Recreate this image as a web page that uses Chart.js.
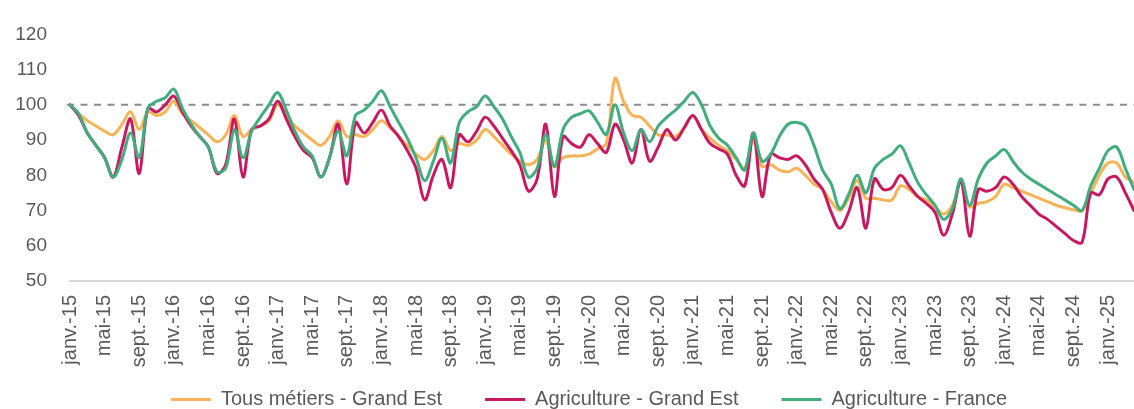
<!DOCTYPE html>
<html lang="fr">
<head>
<meta charset="utf-8">
<title>Demandeurs d'emploi - indice base 100</title>
<script src="https://cdn.jsdelivr.net/npm/chart.js@4.4.1/dist/chart.umd.min.js"></script>
<style>
  html, body { margin: 0; padding: 0; background: #fff; overflow: hidden; }
  #wrap { position: relative; width: 1134px; height: 409px; }
</style>
</head>
<body>
<div id="wrap"><canvas id="chart"></canvas></div>
<script>
// Categories: monthly, janv.-15 .. avr.-25
const monthNames = ['janv.', 'févr.', 'mars', 'avr.', 'mai', 'juin', 'juil.', 'août', 'sept.', 'oct.', 'nov.', 'déc.'];
const years = ['15', '16', '17', '18', '19', '20', '21', '22', '23', '24', '25'];
const monthsInLastYear = 4;
const tickEvery = 4;
const baseValue = 100;

const labels = [];
years.forEach((yy, k) => {
    const n = k === years.length - 1 ? monthsInLastYear : 12;
    for (let m = 0; m < n; m++) labels.push(monthNames[m] + '-' + yy);
});

// Series values (index base 100 = janv.-15)
const tousMetiersGE = [
    100, 97.5, 95.5, 94, 92.5, 91.5, 94.5, 98, 93, 98, 97, 98,
    101, 97.5, 95.5, 93.5, 91.5, 89.5, 91.5, 97, 91, 93, 94, 95.5,
    100, 97, 94, 92, 90, 88.5, 91, 95.5, 91, 91.5, 91, 93,
    95.5, 93.5, 91, 88.5, 86, 84.5, 87, 91, 87, 89, 88.5, 90,
    93, 91, 88.5, 86, 84, 83, 84.5, 90, 82.5, 85, 85.5, 85.5,
    86, 87.5, 89, 107.5, 101, 97, 96.5, 94, 91.5, 91.5, 91, 93.5,
    97, 93, 90.5, 88.5, 87, 84.5, 82, 90, 82.5, 83, 81.5, 81,
    82, 80, 77.5, 76, 72.5, 70, 73.5, 78.5, 73.5, 73.5, 73, 73,
    77, 76, 74, 73, 71, 69, 71.5, 78, 71, 72, 72.5, 74,
    77.5, 76.5, 75.5, 74.5, 73.5, 72.5, 71.5, 70.8, 70.2, 70, 75, 80,
    83.5, 83.5, 79.5, 78
];
const agricultureGE = [
    100, 97, 92, 88.5, 85, 79.5, 88, 96, 80.5, 99, 98, 100,
    102.5, 98, 94, 91, 88, 80.5, 83, 96, 79.5, 93, 94, 96,
    101, 96, 91, 87, 85, 79.5, 85, 94.5, 77.5, 95, 92, 95,
    98.5, 94, 91, 87, 82, 73, 80, 84.5, 76.5, 91.5, 89.5, 92.5,
    96.5, 94, 90.5, 87, 83, 75.5, 79, 94.5, 74, 91, 89, 88,
    91.5, 89, 86.5, 94.5, 90, 83.5, 93, 84, 88, 93, 90, 93.5,
    97, 93, 89, 87.5, 86, 80, 77, 92, 74, 86, 85, 84.5,
    85.5, 83, 79, 76, 69.5, 65, 69.5, 76.5, 65, 79, 76, 76.5,
    80, 77, 74, 72, 69.5, 63, 69, 78.5, 62.7, 76, 75.5, 76.5,
    79.5, 77.5, 74, 71.5, 69, 67.5, 65.5, 63.5, 61.5, 61, 75, 74.5,
    79, 79.5, 75, 70
];
const agricultureFR = [
    100, 97.5, 92, 88.5, 85, 79.5, 84.5, 92, 85, 99, 101, 102,
    104.5, 99, 94.5, 91, 88, 81, 82, 93, 85, 92.5, 96.5, 100,
    103.5, 98.5, 92.5, 88, 85.5, 79.5, 85, 92.5, 85.5, 97, 98.5, 101,
    104, 99.5, 95, 90.5, 85, 78.5, 84, 90.5, 83.5, 95, 98, 99.5,
    102.5, 99.5, 96, 91, 86.5, 79.5, 82, 91.5, 82.5, 93, 96.5, 97.5,
    98.3, 95, 91.6, 100, 92, 87, 93, 89.5, 94, 96.5, 98.5, 101,
    103.5, 100, 94, 90.5, 88.5, 85, 81.5, 92, 84, 86, 91, 94.5,
    95, 94, 88.5, 81.5, 77.5, 70.5, 74.5, 80, 75, 82, 84.5, 86,
    88.4, 83.5, 78, 74.5, 71.5, 67.5, 70.5, 79, 71.5, 79, 83.5, 85.5,
    87.3, 84, 81, 79, 77.5, 76, 74.5, 73, 71.5, 70, 77, 82,
    87, 88, 82, 76
];

const textColor = '#595959';
const fontFamily = "'Liberation Sans', Arial, sans-serif";

// dashed reference line at base 100
const baseLinePlugin = {
    id: 'baseLine',
    beforeDatasetsDraw(chart) {
        const { ctx, chartArea, scales } = chart;
        const y = scales.y.getPixelForValue(baseValue);
        ctx.save();
        ctx.strokeStyle = '#8c8c8c';
        ctx.lineWidth = 2;
        ctx.setLineDash([7, 6.5]);
        ctx.beginPath();
        ctx.moveTo(chartArea.left - 3, y);
        ctx.lineTo(chartArea.right, y);
        ctx.stroke();
        ctx.restore();
    }
};

// nudge legend into place and give the x labels room below the axis
const placementPlugin = {
    id: 'placement',
    afterLayout(chart) {
        const x = chart.scales.x;
        x.bottom = x.top + 100;
        const lg = chart.legend;
        lg.left += 22;
        lg.right += 22;
        lg.top += 10.5;
        lg.bottom += 10.5;
    }
};

function series(label, data, color, order) {
    return {
        label: label,
        data: data,
        borderColor: color,
        backgroundColor: color,
        borderWidth: 3,
        pointRadius: 0,
        tension: 0.35,
        borderCapStyle: 'round',
        borderJoinStyle: 'round',
        fill: false,
        order: order
    };
}

new Chart(document.getElementById('chart'), {
    type: 'line',
    data: {
        labels: labels,
        datasets: [
            series('Tous métiers - Grand Est', tousMetiersGE, '#F7B356', 2),
            series('Agriculture - Grand Est', agricultureGE, '#C9185F', 1),
            series('Agriculture - France', agricultureFR, '#3FAE7C', 0)
        ]
    },
    plugins: [baseLinePlugin, placementPlugin],
    options: {
        responsive: true,
        maintainAspectRatio: false,
        animation: false,
        layout: { padding: { top: 23, left: 0, right: 0, bottom: 0 } },
        plugins: {
            tooltip: { enabled: false },
            legend: {
                position: 'bottom',
                labels: {
                    usePointStyle: true,
                    pointStyle: 'line',
                    pointStyleWidth: 40,
                    padding: 43,
                    color: textColor,
                    font: { family: fontFamily, size: 20 },
                    sort: (a, b) => a.datasetIndex - b.datasetIndex
                }
            }
        },
        scales: {
            x: {
                grid: { display: false, drawTicks: false },
                border: { display: true, color: '#d9d9d9', width: 2 },
                ticks: {
                    autoSkip: false,
                    minRotation: 90,
                    maxRotation: 90,
                    padding: 14,
                    color: textColor,
                    font: { family: fontFamily, size: 20 },
                    callback: function (value, index) {
                        return index % tickEvery === 0 ? this.getLabelForValue(value) : '';
                    }
                },
                afterFit: (scale) => {
                    scale.height = 55;
                    scale.paddingLeft = 0;
                    scale.paddingRight = 0;
                }
            },
            y: {
                min: 50,
                max: 120,
                grid: { display: false, drawTicks: false },
                border: { display: false },
                ticks: {
                    stepSize: 10,
                    padding: 23,
                    color: textColor,
                    font: { family: fontFamily, size: 19 }
                },
                afterFit: (scale) => { scale.width = 70; }
            }
        }
    }
});
</script>
</body>
</html>
